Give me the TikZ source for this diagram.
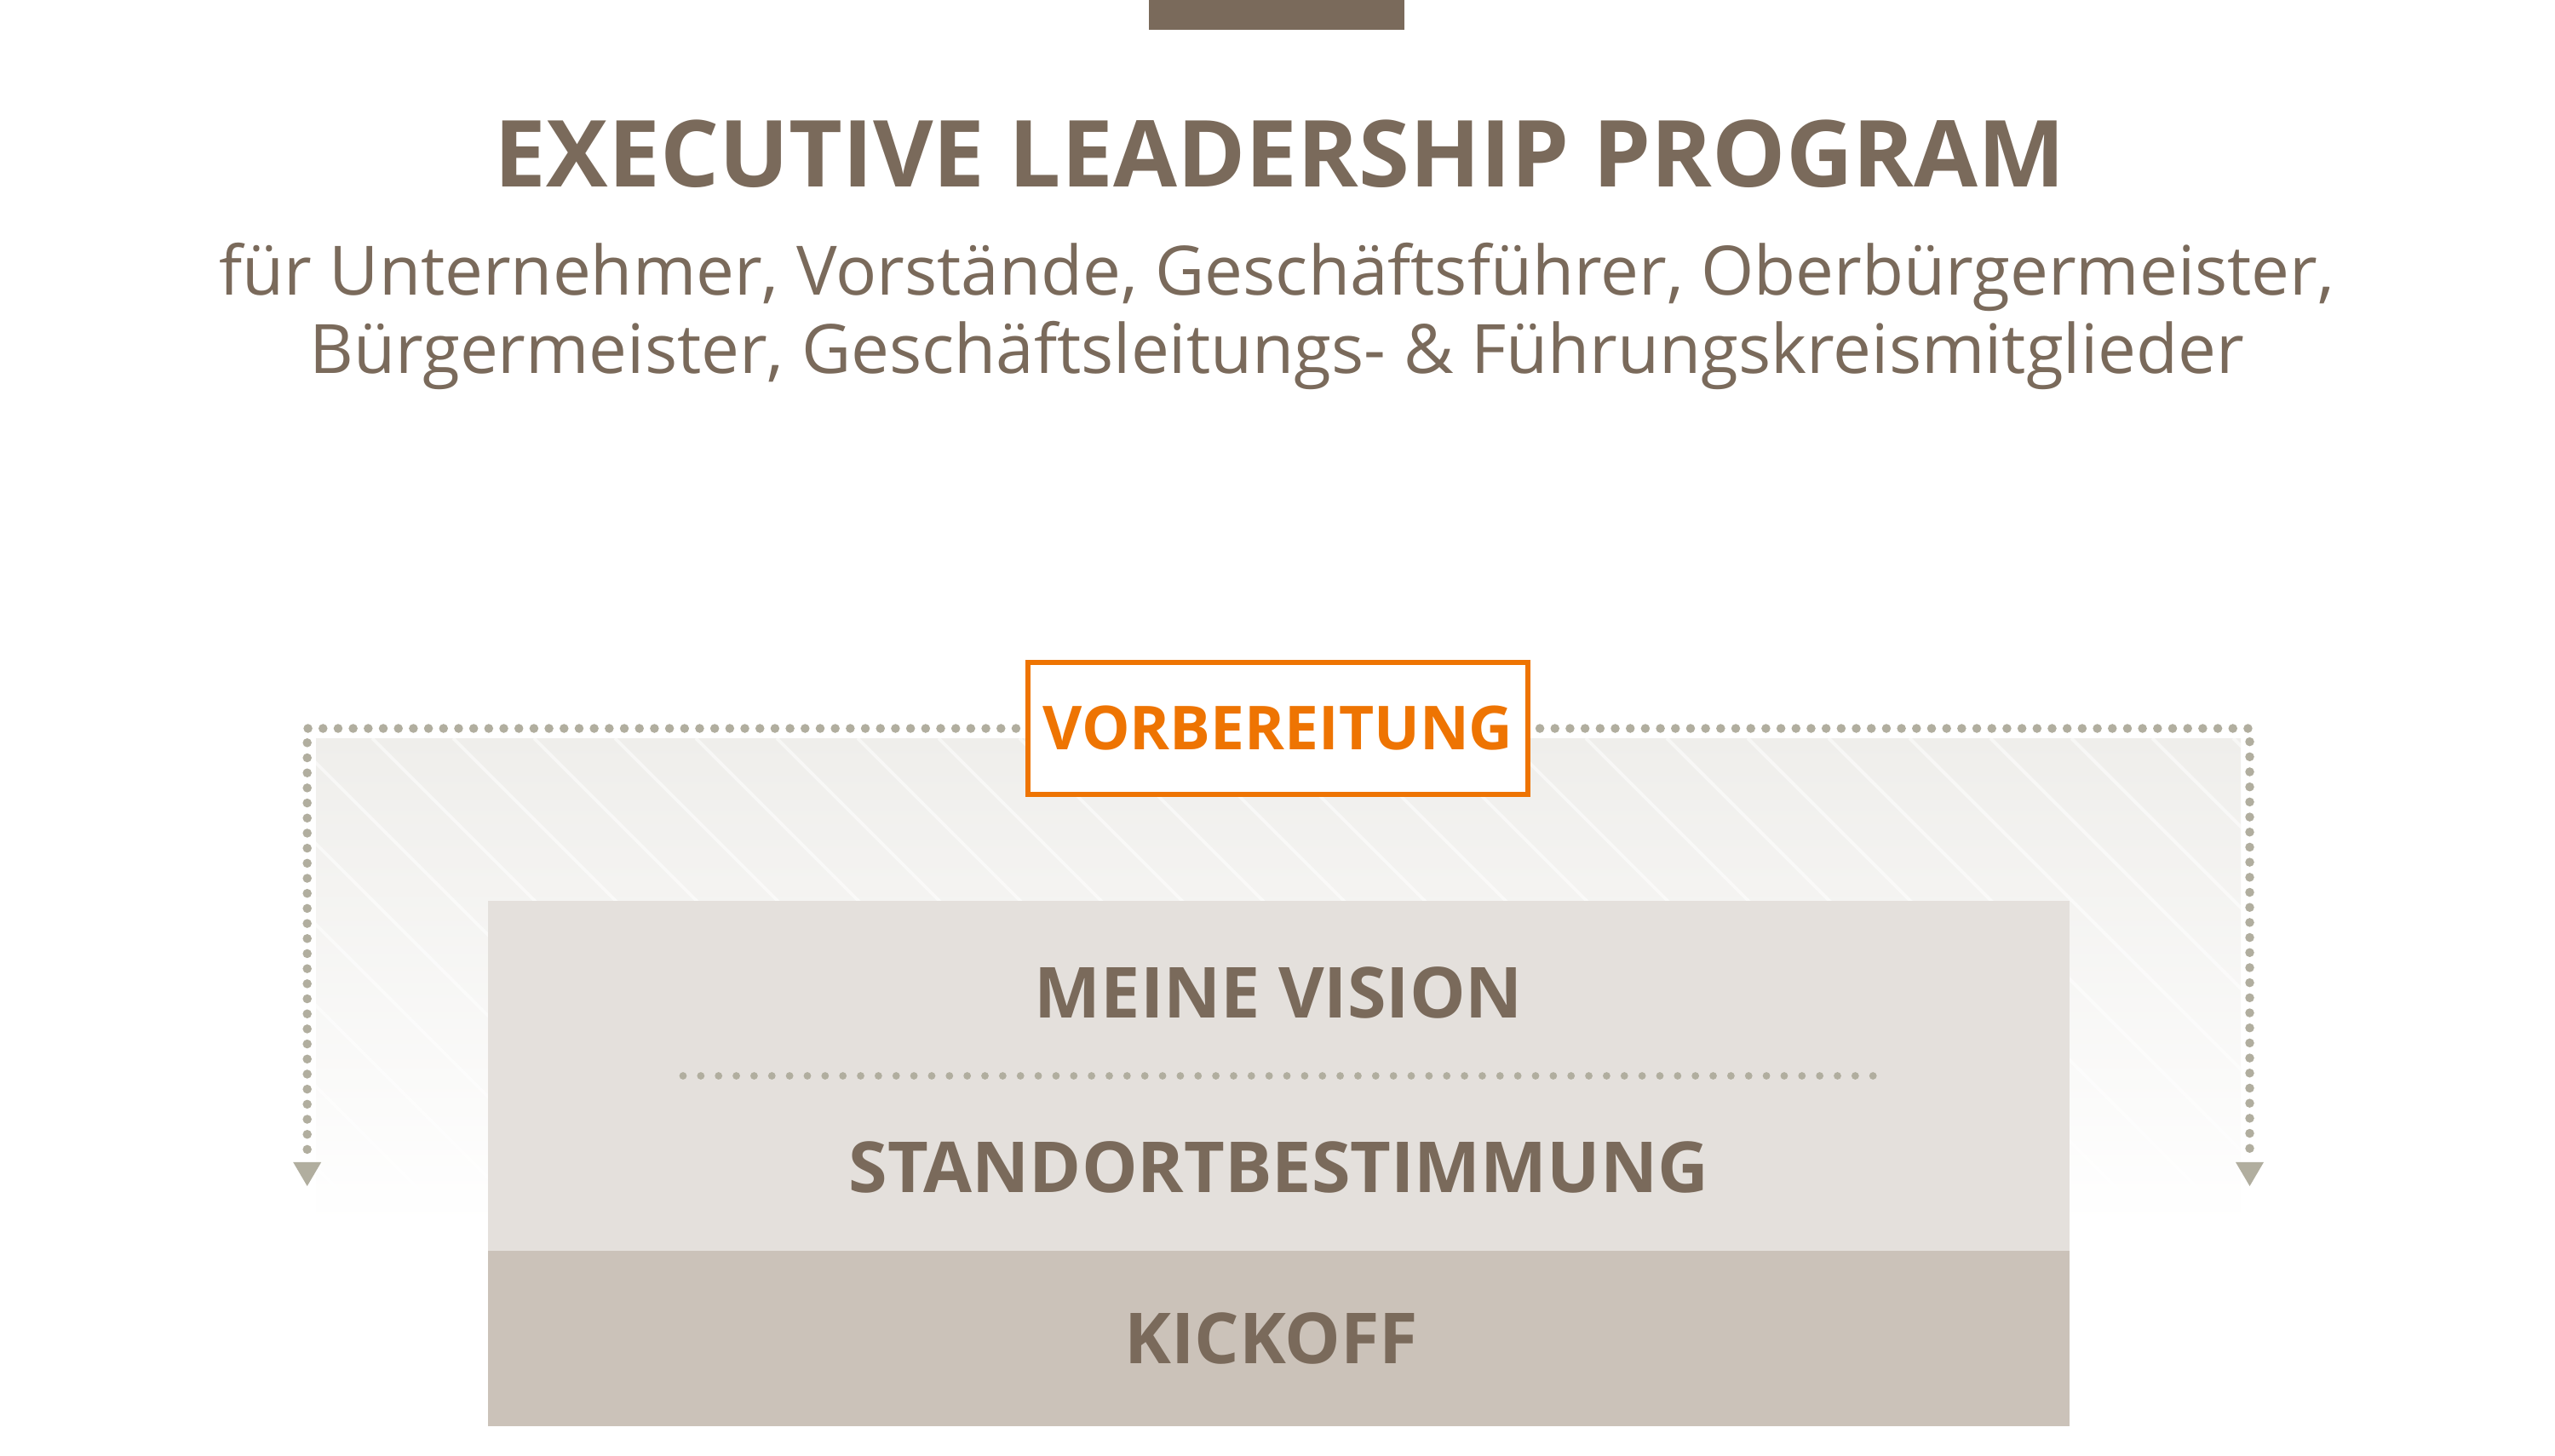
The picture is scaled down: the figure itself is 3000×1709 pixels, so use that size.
\documentclass[tikz,border=0pt]{standalone}
\usepackage{fontspec}
\setmainfont{Open Sans}
\usetikzlibrary{arrows.meta}

\definecolor{leadbrown}{HTML}{7A6A5B}
\definecolor{prepOrange}{HTML}{EE7402}
\definecolor{dotgray}{HTML}{B1AE9F}
\definecolor{visionfill}{HTML}{E4E0DC}
\definecolor{kickfill}{HTML}{CBC2B9}
\definecolor{fadetop}{HTML}{EFEEEB}

\tikzset{
    headline/.style={text=leadbrown, inner sep=0pt, anchor=base, font=\fontsize{30.9}{36}\selectfont\bfseries},
    subline/.style={text=leadbrown, inner sep=0pt, anchor=base, font=\fontsize{22.75}{28}\selectfont},
    steplabel/.style={text=leadbrown, inner sep=0pt, anchor=base, font=\fontsize{23.5}{28}\selectfont\bfseries},
    phasebox/.style={draw=prepOrange, line width=1.7pt, fill=white, minimum width=5.87cm, minimum height=1.55cm, inner sep=0pt, text=prepOrange, font=\fontsize{20.25}{25}\selectfont\bfseries},
    layer/.style={minimum width=18.55cm, inner sep=0pt},
    dotline/.style={draw=dotgray, line width=3pt, line cap=round, dash pattern=on 0pt off 5.03pt, shorten <=3.1pt, -{Triangle[length=8pt,width=9.4pt,line width=0pt]}},
    sepline/.style={draw=dotgray, line width=2.5pt, line cap=round, dash pattern=on 0pt off 5.93pt},
    hatch/.style={white, opacity=0.55, line width=1.1pt}
}

\begin{document}
\begin{tikzpicture}[x=0.01cm, y=-0.01cm]
    \useasboundingbox (0,0) rectangle (3000,1709);

    \fill[leadbrown] (1349,-5) rectangle (1649,35);

    \node[headline] (title) at (1503,219.3) {EXECUTIVE LEADERSHIP PROGRAM};
    \node[subline] (sub1) at (1499,346.7) {für Unternehmer, Vorstände, Geschäftsführer, Oberbürgermeister,};
    \node[subline] (sub2) at (1499,438.3) {Bürgermeister, Geschäftsleitungs- \& Führungskreismitglieder};

    \shade[top color=fadetop, bottom color=white] (371,867) rectangle (2631,1440);
    \begin{scope}
        \clip (371,867) rectangle (2631,1440);
        \foreach \k in {-7,...,24}
            \draw[hatch] (437+95*\k,867) -- ++(700,700);
    \end{scope}

    \node[layer, fill=visionfill, minimum height=4.11cm] (vision) at (1501.5,1263.5) {};
    \node[layer, fill=kickfill, minimum height=2.06cm] (kickoff) at (1501.5,1572) {};
    \node[steplabel] (meine) at (1501.5,1195) {MEINE VISION};
    \node[steplabel] (standort) at (1501.5,1400) {STANDORTBESTIMMUNG};
    \node[steplabel] (kicktext) at (1493,1601) {KICKOFF};

    \coordinate (sepL) at (802,1263.5);
    \coordinate (sepR) at (2201,1263.5);
    \draw[sepline] (sepL) -- (sepR);

    \node[phasebox] (vorb) at (1500.5,855.5) {VORBEREITUNG};

    \coordinate (leftend) at (360.7,1393);
    \coordinate (rightend) at (2641.5,1393);
    \draw[dotline] (vorb.west) -| (leftend);
    \draw[dotline] (vorb.east) -| (rightend);
\end{tikzpicture}
\end{document}
